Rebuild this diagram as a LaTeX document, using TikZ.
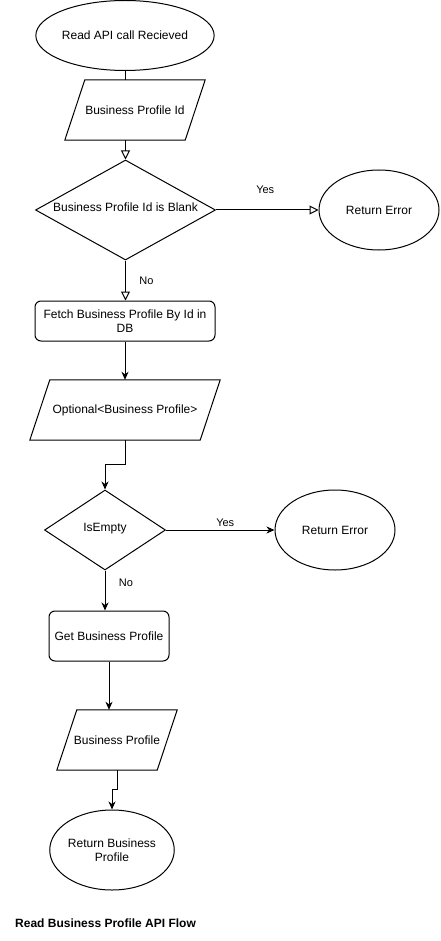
\documentclass[tikz,border=0pt]{standalone}
\usepackage{fontspec}
\setmainfont{Liberation Sans}
\usetikzlibrary{shapes.geometric,arrows.meta,calc}
\begin{document}
\begin{tikzpicture}[x=1pt,y=-1pt,
  every node/.style={font=\fontsize{12}{14}\selectfont, inner sep=0pt},
  base/.style={draw=black, line width=1pt},
  ellbox/.style={base, ellipse, align=center},
  parabox/.style={rectangle, minimum height=60pt},
  paraline/.style={line width=1pt, draw=black, line join=miter},
  rbox/.style={base, rectangle, rounded corners=6pt, align=center},
  dia/.style={base, diamond},
  edge/.style={line width=1pt, draw=black},
  openarrow/.style={edge, -{Triangle[open,length=9pt,width=9pt]}},
  fillarrow/.style={edge, -{Stealth[length=8pt,width=7pt,inset=2.5pt]}},
  lbl/.style={font=\fontsize{11}{13}\selectfont}]
\useasboundingbox (0,0) rectangle (440,941);

\node[ellbox, minimum width=140pt, minimum height=70pt] (start) at (125,35.5) {Read API call Recieved};
\node[parabox, minimum width=140pt] (bpid) at (135,110) {Business Profile Id};
\draw[paraline] (bpid.south west) -- ([xshift=-20pt]bpid.south east) -- (bpid.north east) -- ([xshift=20pt]bpid.north west) -- cycle;
\node[dia, minimum width=180pt, minimum height=100pt] (blank) at (125.5,210) {};
\node (blanktxt) at (125.5,207) {Business Profile Id is Blank};
\node[ellbox, minimum width=120pt, minimum height=80pt] (err1) at (379,210) {Return Error};
\node[rbox, minimum width=180pt, minimum height=40pt] (fetch) at (125,321) {Fetch Business Profile By Id in\\DB};
\node[parabox, minimum width=190pt] (opt) at (125,410) {Optional<Business Profile>};
\draw[paraline] (opt.south west) -- ([xshift=-20pt]opt.south east) -- (opt.north east) -- ([xshift=20pt]opt.north west) -- cycle;
\node[dia, minimum width=121pt, minimum height=80pt] (empty) at (105,530) {};
\node (emptytxt) at (105,529) {IsEmpty};
\node[ellbox, minimum width=120pt, minimum height=80pt] (err2) at (335,530) {Return Error};
\node[rbox, minimum width=120pt, minimum height=50pt] (get) at (109,636) {Get Business Profile};
\node[parabox, minimum width=120pt] (bp) at (117,740) {Business Profile};
\draw[paraline] (bp.south west) -- ([xshift=-20pt]bp.south east) -- (bp.north east) -- ([xshift=20pt]bp.north west) -- cycle;
\node[ellbox, minimum width=120pt, minimum height=80pt] (ret) at (112,850) {Return Business\\Profile};
\node[font=\bfseries\fontsize{12}{14}\selectfont, anchor=west] (title) at (15,923) {Read Business Profile API Flow};

\draw[edge] (start.south) -- (start.south |- bpid.north);
\draw[openarrow] (blank.north |- bpid.south) -- (blank.north);
\draw[openarrow] (blank.east) -- (err1.west) node[lbl, pos=0.5, yshift=20pt, xshift=-2pt] {Yes};
\draw[openarrow] (blank.south) -- (blank.south |- fetch.north) node[lbl, pos=0.5, xshift=21pt] {No};
\draw[fillarrow] (fetch.south) -- (fetch.south |- opt.north);
\draw[fillarrow] (opt.south) |- ($(opt.south)!.5!(empty.north)$) -| (empty.north);
\draw[fillarrow] (empty.east) -- (err2.west) node[lbl, pos=0.5, yshift=7pt, xshift=5pt] {Yes};
\draw[fillarrow] (empty.south) -- (empty.south |- get.north) node[lbl, pos=0.5, xshift=21pt, yshift=8pt] {No};
\draw[fillarrow] (get.south) -- (get.south |- bp.north);
\draw[fillarrow] (bp.south) |- ($(bp.south)!.5!(ret.north)$) -| (ret.north);
\end{tikzpicture}
\end{document}
